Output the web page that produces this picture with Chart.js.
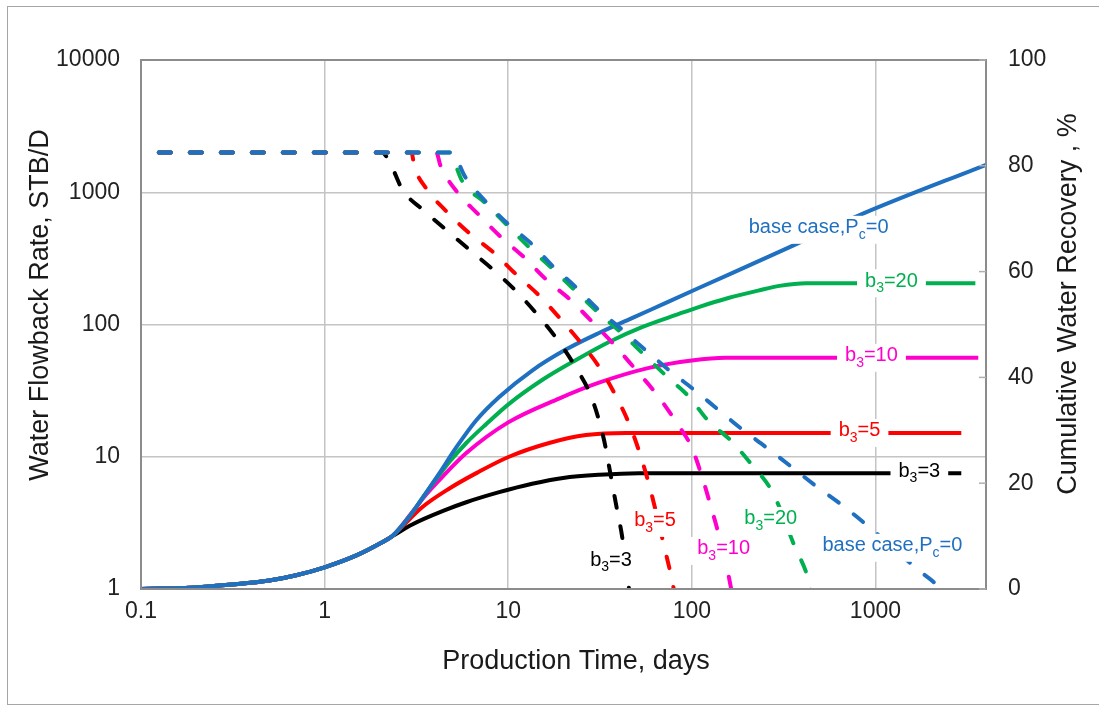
<!DOCTYPE html>
<html>
<head>
<meta charset="utf-8">
<script src="https://cdn.jsdelivr.net/npm/chart.js@4.4.1/dist/chart.umd.min.js"></script>
<style>
  html, body { margin: 0; padding: 0; background: #fff; }
</style>
</head>
<body>
<canvas id="flowback" width="1099" height="718"></canvas>
<script>
// axis ticks
const timeTicks = [0.1, 1, 10, 100, 1000];
const rateTicks = [1, 10, 100, 1000, 10000];
const recoveryTicks = [0, 20, 40, 60, 80, 100];

// water flowback rate, STB/D (dashed lines, left axis)
const rateTimeBase = [0.125, 4.9, 5.84, 7.6, 9.88, 13.3, 17.3, 23.4, 30.5, 41.1, 56.2, 76.9, 102.5, 137, 189, 256, 354, 472, 645, 883, 1713, 2199, 2342];
const rateBase = [2000, 2000, 1300, 840, 582, 411, 280, 191, 132, 93, 63.6, 44, 32.2, 23.1, 16, 11.7, 8.26, 6.03, 4.4, 3.1, 1.39, 1.035, 0.9];
const rateTimeB20 = [0.125, 4.8, 5.09, 5.62, 7.41, 9.88, 13, 17.1, 22.8, 30.5, 41.1, 54.8, 73.1, 96.3, 124, 161, 212, 275, 363, 432, 449];
const rateB20 = [2000, 2000, 1690, 1210, 840, 562, 383, 270, 184, 125, 87, 59.3, 40.4, 28.5, 18.4, 13.5, 8.7, 5.4, 2.1, 1.17, 0.9];
const rateTimeB10 = [0.125, 4.06, 4.27, 5.28, 6.87, 9.16, 12.2, 16.3, 22, 28.6, 37.7, 48.4, 64.5, 81.9, 100, 115, 127, 137, 157, 165];
const rateB10 = [2000, 2000, 1600, 1000, 681, 456, 322, 215, 152, 105, 70.5, 47.2, 29.5, 18.4, 11.7, 6.7, 4.2, 2.9, 1.35, 0.95];
const rateTimeB5 = [0.125, 2.97, 3.08, 3.54, 4.6, 6.06, 8.3, 11.05, 14.7, 19.4, 24.6, 31.2, 38.2, 45.5, 52.2, 58.4, 64.5, 70.4, 76.9, 80.9];
const rateB5 = [2000, 2000, 1570, 1090, 718, 498, 351, 239, 166, 109, 74, 48, 29.5, 17.8, 10.5, 6.2, 3.6, 2.15, 1.28, 0.9];
const rateTimeB3 = [0.125, 2.05, 2.26, 2.65, 3.5, 4.66, 6.3, 8.6, 11.2, 14.7, 18.9, 23.4, 28.3, 33.2, 36.3, 39.1, 41.7, 44.4, 46];
const rateB3 = [2000, 2000, 1690, 1050, 720, 510, 357, 248, 175, 115, 74, 47, 28.5, 13.5, 7.0, 4.0, 2.5, 1.28, 0.9];

// cumulative water recovery, % (solid lines, right axis)
const recTimeCommon = [0.1, 0.2, 0.3, 0.5, 0.7, 1, 1.5, 2, 2.34];
const recCommon = [0, 0.3, 0.8, 1.6, 2.6, 4.1, 6.4, 8.6, 10.0];
const recTimeBase = [3.0, 3.41, 4.22, 5.22, 6.7, 8.93, 13.5, 20.7, 31.2, 47.2, 72.2, 109, 316, 861, 4000];
const recBase = [14.4, 17.2, 21.9, 26.8, 31.9, 36.3, 41.3, 45.3, 48.4, 51.2, 54.1, 56.9, 64.1, 71.0, 80.2];
const recTimeB20 = [3.0, 3.41, 4.78, 5.91, 7.6, 10.1, 15.3, 23.4, 35.4, 53.5, 85, 109, 158, 230, 300, 420, 3500];
const recB20 = [14.4, 17.2, 24.0, 27.6, 31.2, 35.0, 39.5, 43.3, 46.7, 49.5, 52.0, 53.3, 55.0, 56.4, 57.3, 57.8, 57.8];
const recTimeB10 = [3.2, 3.5, 4.38, 5.91, 10, 18.9, 31.2, 58.4, 100, 153, 3630];
const recB10 = [15.8, 17.5, 21.2, 25.7, 31.5, 36.0, 39.0, 41.8, 43.2, 43.7, 43.7];
const recTimeB5 = [2.56, 3.41, 4.78, 6.78, 10.1, 16.7, 26.5, 43.8, 2934];
const recB5 = [11.3, 15.5, 19.0, 22.0, 25.0, 27.6, 29.1, 29.5, 29.5];
const recTimeB3 = [3.0, 4.6, 5.91, 8.93, 13.5, 19.9, 31.2, 51.5, 2934];
const recB3 = [12.2, 15.0, 16.4, 18.3, 19.9, 21.0, 21.6, 21.9, 21.9];

// in-plot labels: [text, subscript, rest]
const labelParts = [['base case,P', 'c', '=0'], ['b', '3', '=20'], ['b', '3', '=10'], ['b', '3', '=5'], ['b', '3', '=3']];
const recLabelTime = [490, 1222, 951, 819, 1734];
const recLabelValue = [67.9, 57.8, 43.7, 29.5, 21.9];
const rateLabelTime = [1237, 269, 149, 63, 36.3];
const rateLabelValue = [2.05, 3.27, 1.94, 3.16, 1.6];

const colors = ['#1f70c1', '#00b050', '#ff00cc', '#ff0000', '#000000'];
const FONT = '"Liberation Sans", Arial, sans-serif';

function pts(ts, vs) {
    return ts.map((t, i) => ({ x: t, y: vs[i] }));
}

const rateSeries = [
    pts(rateTimeBase, rateBase), pts(rateTimeB20, rateB20), pts(rateTimeB10, rateB10),
    pts(rateTimeB5, rateB5), pts(rateTimeB3, rateB3)
];
const recSeries = [
    pts(recTimeCommon.concat(recTimeBase), recCommon.concat(recBase)),
    pts(recTimeCommon.concat(recTimeB20), recCommon.concat(recB20)),
    pts(recTimeCommon.concat(recTimeB10), recCommon.concat(recB10)),
    pts(recTimeCommon.concat(recTimeB5), recCommon.concat(recB5)),
    pts(recTimeCommon.concat(recTimeB3), recCommon.concat(recB3))
];

const datasets = [];
// dashed first so they sit on top
rateSeries.forEach((d, i) => datasets.push({
    data: d, yAxisID: 'y', borderColor: colors[i], borderWidth: 4,
    borderDash: [12, 19], borderCapStyle: 'round', pointRadius: 0,
    cubicInterpolationMode: 'monotone'
}));
recSeries.forEach((d, i) => datasets.push({
    data: d, yAxisID: 'y2', borderColor: colors[i], borderWidth: 4,
    pointRadius: 0, cubicInterpolationMode: 'monotone'
}));

function drawLabel(ctx, parts, cx, cy, color) {
    const main = '20px ' + FONT, sub = '14px ' + FONT;
    const fonts = [main, sub, main];
    let w = 0;
    parts.forEach((p, i) => { ctx.font = fonts[i]; w += ctx.measureText(p).width; });
    ctx.fillStyle = '#fff';
    ctx.fillRect(cx - w / 2 - 8, cy - 14, w + 16, 28);
    ctx.fillStyle = color;
    ctx.textAlign = 'left';
    ctx.textBaseline = 'middle';
    let x = cx - w / 2;
    parts.forEach((p, i) => {
        ctx.font = fonts[i];
        ctx.fillText(p, x, i === 1 ? cy + 5 : cy - 2);
        x += ctx.measureText(p).width;
    });
}

const decorations = {
    id: 'decorations',
    beforeDraw(chart) {
        const ctx = chart.ctx;
        ctx.save();
        ctx.strokeStyle = '#a6a6a6';
        ctx.lineWidth = 1;
        ctx.strokeRect(7.5, 6.5, 1100, 698);
        ctx.restore();
    },
    afterDatasetsDraw(chart) {
        const { ctx, chartArea: a, scales } = chart;
        ctx.save();
        // plot frame
        ctx.strokeStyle = '#8c8c8c';
        ctx.lineWidth = 2;
        ctx.strokeRect(a.left, a.top, a.right - a.left, a.bottom - a.top);
        // small inner ticks on right axis
        ctx.lineWidth = 1.5;
        ctx.strokeStyle = '#b0b0b0';
        recoveryTicks.forEach(v => {
            const y = scales.y2.getPixelForValue(v);
            ctx.beginPath();
            ctx.moveTo(a.right - 7, y);
            ctx.lineTo(a.right, y);
            ctx.stroke();
        });
        // curve labels
        labelParts.forEach((parts, i) => {
            drawLabel(ctx, parts, scales.x.getPixelForValue(recLabelTime[i]),
                scales.y2.getPixelForValue(recLabelValue[i]), colors[i]);
            drawLabel(ctx, parts, scales.x.getPixelForValue(rateLabelTime[i]),
                scales.y.getPixelForValue(rateLabelValue[i]), colors[i]);
        });
        ctx.restore();
    },
    afterDraw(chart) {
        const ctx = chart.ctx;
        ctx.save();
        ctx.fillStyle = '#1a1a1a';
        ctx.font = '27px ' + FONT;
        ctx.textAlign = 'center';
        ctx.textBaseline = 'middle';
        ctx.fillText('Production Time, days', 576, 662);
        ctx.translate(41, 305);
        ctx.rotate(-Math.PI / 2);
        ctx.fillText('Water Flowback Rate, STB/D', 0, 0);
        ctx.restore();
        ctx.save();
        ctx.fillStyle = '#1a1a1a';
        ctx.font = '27px ' + FONT;
        ctx.textAlign = 'center';
        ctx.textBaseline = 'middle';
        ctx.translate(1069, 304);
        ctx.rotate(-Math.PI / 2);
        ctx.fillText('Cumulative Water Recovery , %', 0, 0);
        ctx.restore();
    }
};

const tickFont = { family: FONT, size: 23 };

new Chart(document.getElementById('flowback').getContext('2d'), {
    type: 'line',
    data: { datasets: datasets },
    options: {
        responsive: false,
        animation: false,
        layout: { padding: { top: 60, left: 0, right: 0, bottom: 0 } },
        plugins: { legend: { display: false }, tooltip: { enabled: false } },
        scales: {
            x: {
                type: 'logarithmic', min: 0.1, max: 4000,
                afterBuildTicks: s => { s.ticks = timeTicks.map(v => ({ value: v })); },
                afterFit: s => { s.height = 129; },
                ticks: { callback: v => String(v), font: tickFont, color: '#222', padding: 9, maxRotation: 0, autoSkip: false },
                grid: { color: '#c4c4c4', lineWidth: 1.5, drawTicks: false },
                border: { display: false }
            },
            y: {
                type: 'logarithmic', position: 'left', min: 1, max: 10000,
                afterBuildTicks: s => { s.ticks = rateTicks.map(v => ({ value: v })); },
                afterFit: s => { s.width = 141; },
                ticks: { callback: v => String(v), font: tickFont, color: '#222', padding: 21 },
                grid: { color: '#c4c4c4', lineWidth: 1.5, drawTicks: false },
                border: { display: false }
            },
            y2: {
                type: 'linear', position: 'right', min: 0, max: 100,
                afterBuildTicks: s => { s.ticks = recoveryTicks.map(v => ({ value: v })); },
                afterFit: s => { s.width = 113; },
                ticks: { font: tickFont, color: '#222', padding: 22 },
                grid: { drawOnChartArea: false, drawTicks: false },
                border: { display: false }
            }
        }
    },
    plugins: [decorations]
});
</script>
</body>
</html>
